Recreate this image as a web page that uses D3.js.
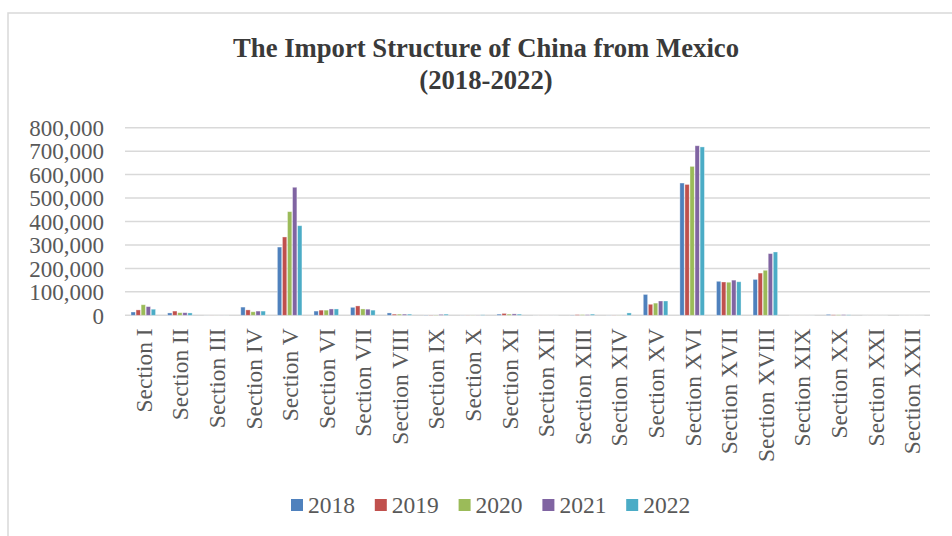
<!DOCTYPE html>
<html>
<head>
<meta charset="utf-8">
<script src="https://cdn.jsdelivr.net/npm/d3@7"></script>
<style>
  html, body { margin: 0; padding: 0; background: #fff; }
  svg { display: block; font-family: "Liberation Serif", "Times New Roman", serif; }
</style>
</head>
<body>
<svg id="chart" width="952" height="536"></svg>
<script>
// HS sections and yearly import values (USD thousand)
const sections = ["Section I", "Section II", "Section III", "Section IV", "Section V", "Section VI",
  "Section VII", "Section VIII", "Section IX", "Section X", "Section XI", "Section XII",
  "Section XIII", "Section XIV", "Section XV", "Section XVI", "Section XVII", "Section XVIII",
  "Section XIX", "Section XX", "Section XXI", "Section XXII"];
const years = ["2018", "2019", "2020", "2021", "2022"];
const values2018 = [14000, 10000, 300, 35000, 291000, 18000, 34000, 10000, 1000, 500, 5000, 200, 1000, 500, 89000, 564000, 145000, 153000, 200, 4000, 100, 100];
const values2019 = [23000, 18000, 300, 23000, 334000, 22000, 40000, 5000, 1000, 500, 8000, 200, 3000, 500, 47000, 558000, 142000, 180000, 200, 2000, 100, 100];
const values2020 = [45000, 11000, 300, 15000, 442000, 22000, 27000, 5000, 1000, 500, 5000, 200, 3000, 500, 52000, 635000, 141000, 192000, 200, 2000, 100, 100];
const values2021 = [37000, 11000, 300, 18000, 546000, 27000, 26000, 5000, 4000, 500, 6000, 200, 3000, 500, 61000, 723000, 150000, 263000, 200, 3000, 100, 100];
const values2022 = [26000, 10000, 300, 18000, 382000, 27000, 22000, 5000, 5000, 2000, 5000, 200, 5000, 10000, 61000, 718000, 143000, 270000, 200, 2000, 100, 100];
const yTicks = [0, 100000, 200000, 300000, 400000, 500000, 600000, 700000, 800000];
const colors = ["#4F81BD", "#C0504D", "#9BBB59", "#8064A2", "#4BACC6"];

const series = [values2018, values2019, values2020, values2021, values2022];

const svg = d3.select("#chart");

// outer chart frame
svg.append("rect")
  .attr("x", 8).attr("y", 13)
  .attr("width", 1000).attr("height", 600)
  .attr("fill", "none")
  .attr("stroke", "#d9d9d9")
  .attr("stroke-width", 1.5);

// title
const title = svg.append("text")
  .attr("x", 486)
  .attr("text-anchor", "middle")
  .attr("font-weight", "bold")
  .attr("font-size", 26.7)
  .attr("fill", "#3a3a3a");
title.append("tspan").attr("x", 486).attr("y", 57).text("The Import Structure of China from Mexico");
title.append("tspan").attr("x", 486).attr("y", 89).text("(2018-2022)");

const plot = { left: 125, right: 930, top: 127.7, bottom: 315.3 };

const x = d3.scaleBand()
  .domain(sections)
  .range([plot.left, plot.right])
  .paddingInner(0.29)
  .paddingOuter(0.145);

const xInner = d3.scaleBand()
  .domain(years)
  .range([0, x.bandwidth()])
  .padding(0.14);

const y = d3.scaleLinear()
  .domain([0, 800000])
  .range([plot.bottom, plot.top]);

// gridlines
svg.append("g")
  .selectAll("line")
  .data(yTicks)
  .join("line")
  .attr("x1", plot.left).attr("x2", plot.right)
  .attr("y1", d => y(d)).attr("y2", d => y(d))
  .attr("stroke", "#d9d9d9")
  .attr("stroke-width", 1.5);

// y axis labels
const yAxis = d3.axisLeft(y)
  .tickValues(yTicks)
  .tickSize(0)
  .tickPadding(0)
  .tickFormat(d3.format(","));
const yG = svg.append("g")
  .attr("transform", `translate(${plot.left - 21},0)`)
  .call(yAxis);
yG.select(".domain").remove();
yG.selectAll("text")
  .attr("font-family", "Liberation Serif, Times New Roman, serif")
  .attr("font-size", 23)
  .attr("fill", "#595959")
  .attr("dy", "0.34em");

// bars
const groups = svg.append("g")
  .selectAll("g")
  .data(years)
  .join("g")
  .attr("fill", (d, i) => colors[i]);

groups.selectAll("rect")
  .data((yr, i) => series[i].map((v, j) => ({ section: sections[j], year: yr, value: v })))
  .join("rect")
  .attr("x", d => x(d.section) + xInner(d.year))
  .attr("width", xInner.bandwidth())
  .attr("y", d => y(d.value))
  .attr("height", d => y(0) - y(d.value))
  .attr("stroke", "#ffffff")
  .attr("stroke-opacity", 0.45)
  .attr("stroke-width", 0.8);

// x axis labels (rotated)
const xAxis = d3.axisBottom(x).tickSize(0).tickPadding(0);
const xG = svg.append("g")
  .attr("transform", `translate(0,${plot.bottom})`)
  .call(xAxis);
xG.select(".domain").remove();
xG.selectAll("text")
  .attr("font-family", "Liberation Serif, Times New Roman, serif")
  .attr("font-size", 23.5)
  .attr("fill", "#595959")
  .attr("text-anchor", "end")
  .attr("transform", "rotate(-90)")
  .attr("x", -13)
  .attr("y", 0)
  .attr("dy", "0.36em");

// legend
const legend = svg.append("g")
  .selectAll("g")
  .data(years)
  .join("g")
  .attr("transform", (d, i) => `translate(${291 + i * 83.8},499)`);
legend.append("rect")
  .attr("width", 12).attr("height", 12)
  .attr("fill", (d, i) => colors[i]);
legend.append("text")
  .attr("x", 17).attr("y", 14.3)
  .attr("font-size", 23.5)
  .attr("fill", "#595959")
  .text(d => d);
</script>
</body>
</html>
